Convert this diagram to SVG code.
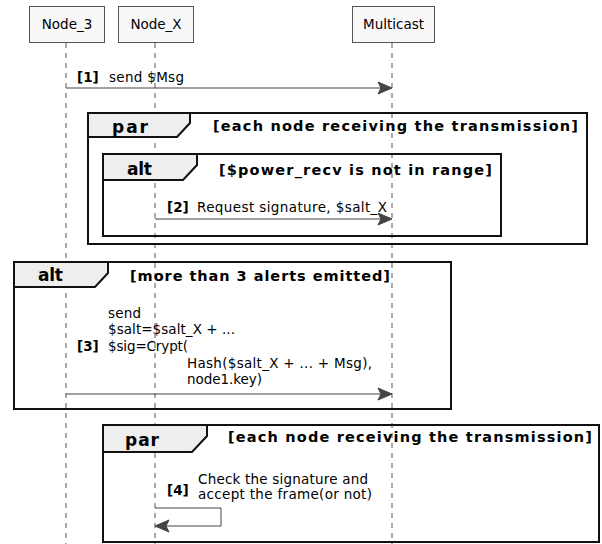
<svg xmlns="http://www.w3.org/2000/svg" width="602" height="544" viewBox="0 0 602 544">
<defs>
<style>
.pbox{fill:#F8F8F8;stroke:#555;stroke-width:1}
.pname{font-family:"DejaVu Sans",sans-serif;font-size:13.5px;fill:#000;text-anchor:middle}
.life{stroke:#555;stroke-width:1;stroke-dasharray:5,5;fill:none}
.frame{fill:none;stroke:#111;stroke-width:2}
.tab{fill:#EEEEEE;stroke:#111;stroke-width:2}
.tabl{font-family:"DejaVu Sans",sans-serif;font-size:17px;font-weight:bold;fill:#000}
.guard{font-family:"DejaVu Sans",sans-serif;font-size:14.5px;font-weight:bold;fill:#000}
.msg{font-family:"DejaVu Sans",sans-serif;font-size:13.5px;fill:#000}
.num{font-family:"DejaVu Sans",sans-serif;font-size:13.5px;font-weight:bold;fill:#000}
.arr{stroke:#444;stroke-width:1;fill:none}
.head{fill:#444;stroke:#444;stroke-width:1}
</style>
</defs>
<rect width="602" height="544" fill="#fff"/>
<g id="lifelines">
<line class="life" x1="66" y1="43" x2="66" y2="544"/>
<line class="life" x1="155" y1="43" x2="155" y2="544"/>
<line class="life" x1="392" y1="43" x2="392" y2="544"/>
</g>
<g id="Node_3">
<rect class="pbox" x="29.5" y="6.5" width="75" height="36"/>
<text class="pname" x="67" y="29">Node_3</text>
</g>
<g id="Node_X">
<rect class="pbox" x="118.5" y="6.5" width="75" height="36"/>
<text class="pname" x="156" y="29">Node_X</text>
</g>
<g id="Multicast">
<rect class="pbox" x="352.5" y="6.5" width="82" height="36"/>
<text class="pname" x="393.5" y="29">Multicast</text>
</g>
<g id="par1">
<rect class="frame" x="88" y="113" width="499" height="131"/>
<polygon class="tab" points="88,113 190,113 190,123 177,137 88,137"/>
<text class="tabl" x="112" y="133" textLength="36">par</text>
<text class="guard" x="213" y="131" textLength="365">[each node receiving the transmission]</text>
</g>
<g id="alt1">
<rect class="frame" x="103" y="154" width="398" height="82"/>
<polygon class="tab" points="103,154 197,154 197,165 183,180 103,180"/>
<text class="tabl" x="127" y="175" textLength="25">alt</text>
<text class="guard" x="219" y="175" textLength="273">[$power_recv is not in range]</text>
</g>
<g id="alt2">
<rect class="frame" x="14" y="262" width="437" height="147"/>
<polygon class="tab" points="14,262 108,262 108,273 95,287 14,287"/>
<text class="tabl" x="38" y="281" textLength="25">alt</text>
<text class="guard" x="130" y="281" textLength="260">[more than 3 alerts emitted]</text>
</g>
<g id="par2">
<rect class="frame" x="103" y="425" width="496" height="117"/>
<polygon class="tab" points="103,425 207,425 207,436 192,452 103,452"/>
<text class="tabl" x="125" y="446" textLength="34">par</text>
<text class="guard" x="228" y="442" textLength="364">[each node receiving the transmission]</text>
</g>
<g id="connectors">
<g id="m1">
<line class="arr" x1="66" y1="88" x2="390" y2="88"/>
<polygon class="head" points="378,82 392,88 378,94 381,88"/>
<text class="num" x="77" y="82">[1]</text>
<text class="msg" x="109" y="82" textLength="75">send $Msg</text>
</g>
<g id="m2">
<line class="arr" x1="155" y1="219" x2="390" y2="219"/>
<polygon class="head" points="378,213 392,219 378,225 381,219"/>
<text class="num" x="167" y="212">[2]</text>
<text class="msg" x="197" y="212" textLength="190">Request signature, $salt_X</text>
</g>
<g id="m3">
<line class="arr" x1="66" y1="394" x2="390" y2="394"/>
<polygon class="head" points="378,388 392,394 378,400 381,394"/>
<text class="num" x="77" y="351">[3]</text>
<text class="msg" x="108" y="318" textLength="33">send</text>
<text class="msg" x="108" y="334" textLength="127">$salt=$salt_X + ...</text>
<text class="msg" x="108" y="351" textLength="80">$sig=Crypt(</text>
<text class="msg" x="187" y="368" textLength="185">Hash($salt_X + ... + Msg),</text>
<text class="msg" x="187" y="384" textLength="75">node1.key)</text>
</g>
<g id="m4">
<polyline class="arr" points="155,508 221,508 221,526 157,526"/>
<polygon class="head" points="169,520 155,526 169,532 166,526"/>
<text class="num" x="167" y="495">[4]</text>
<text class="msg" x="198" y="484" textLength="170">Check the signature and</text>
<text class="msg" x="198" y="499" textLength="174">accept the frame(or not)</text>
</g>
</g>
</svg>
